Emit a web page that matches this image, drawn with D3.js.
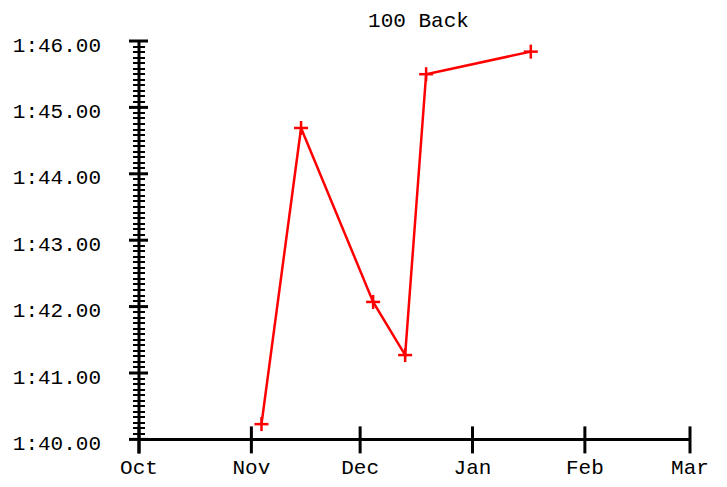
<!DOCTYPE html>
<html>
<head>
<meta charset="utf-8">
<script src="https://cdn.jsdelivr.net/npm/d3@7"></script>
<style>
  html, body { margin: 0; padding: 0; background: #fff; }
  svg text { font-family: "Liberation Mono", "Courier New", monospace; fill: #000; }
</style>
</head>
<body>
<svg id="chart" width="727" height="487"></svg>
<script>
// ---- data ----
const title = "100 Back";
const swimDates = ["2023-11-03T19:00Z", "2023-11-14T17:00Z", "2023-12-04T14:00Z", "2023-12-13T10:00Z", "2023-12-19T05:00Z", "2024-01-17T02:00Z"];
const swimTimes = [100.23, 104.69, 102.07, 101.27, 105.50, 105.84]; // seconds
const xDomain = ["2023-10-01T00:00Z", "2024-03-01T00:00Z"];
const yDomain = [100, 106];
const xTickLabels = ["Oct", "Nov", "Dec", "Jan", "Feb", "Mar"];

// ---- layout ----
const svg = d3.select("#chart");
const mLeft = 139, mRight = 690, mTop = 41, mBottom = 439.4;
const parse = d3.isoParse;
const x = d3.scaleUtc().domain(xDomain.map(d => parse(d))).range([mLeft, mRight]);
const y = d3.scaleLinear().domain(yDomain).range([mBottom, mTop]);
const fmt = v => { const m = Math.floor(v / 60); const s = v - m * 60; return m + ":" + (s < 10 ? "0" : "") + s.toFixed(2); };

// title
svg.append("text").attr("x", (mLeft + mRight) / 2 + 4).attr("y", 27)
  .attr("text-anchor", "middle").attr("font-size", 21).text(title);

// y minor ticks (1/12 s)
const minor = d3.range(yDomain[0] * 12, yDomain[1] * 12 + 1).map(v => v / 12);
svg.append("g").attr("shape-rendering", "crispEdges").selectAll("line").data(minor).join("line")
  .attr("x1", mLeft - 6).attr("x2", mLeft + 6)
  .attr("y1", d => y(d)).attr("y2", d => y(d))
  .attr("stroke", "#000").attr("stroke-width", 2);

// y major ticks + labels
const majors = d3.range(yDomain[0], yDomain[1] + 1);
const yg = svg.append("g");
yg.selectAll("line").data(majors).join("line")
  .attr("x1", mLeft - 10).attr("x2", mLeft + 9)
  .attr("y1", d => y(d)).attr("y2", d => y(d))
  .attr("stroke", "#000").attr("stroke-width", 3);
yg.selectAll("text").data(majors).join("text")
  .attr("x", 101).attr("y", d => y(d) + 10.5)
  .attr("text-anchor", "end").attr("font-size", 21).text(d => fmt(d));

// axis lines
svg.append("line").attr("x1", mLeft).attr("x2", mLeft).attr("y1", mTop - 1).attr("y2", mBottom + 14)
  .attr("stroke", "#000").attr("stroke-width", 3);
svg.append("line").attr("x1", mLeft).attr("x2", mRight).attr("y1", mBottom).attr("y2", mBottom)
  .attr("stroke", "#000").attr("stroke-width", 3);

// x ticks
const xticks = x.ticks(d3.utcMonth.every(1));
const xg = svg.append("g");
xg.selectAll("line").data(xticks).join("line")
  .attr("x1", d => x(d)).attr("x2", d => x(d))
  .attr("y1", mBottom - 13).attr("y2", mBottom + 14)
  .attr("stroke", "#000").attr("stroke-width", 3);
xg.selectAll("text").data(xticks).join("text")
  .attr("x", d => x(d)).attr("y", 474)
  .attr("text-anchor", "middle").attr("font-size", 21)
  .text((d, i) => xTickLabels[i]);

// data line
const pts = swimDates.map((d, i) => ({ date: parse(d), v: swimTimes[i] }));
svg.append("path").datum(pts)
  .attr("d", d3.line().x(d => x(d.date)).y(d => y(d.v)))
  .attr("fill", "none").attr("stroke", "#ff0000").attr("stroke-width", 2.5);

// markers
const mk = svg.append("g").attr("stroke", "#ff0000").attr("stroke-width", 2.5);
pts.forEach(p => {
  const cx = x(p.date), cy = y(p.v);
  mk.append("line").attr("x1", cx - 7).attr("x2", cx + 7).attr("y1", cy).attr("y2", cy);
  mk.append("line").attr("x1", cx).attr("x2", cx).attr("y1", cy - 7).attr("y2", cy + 7);
});
</script>
</body>
</html>
